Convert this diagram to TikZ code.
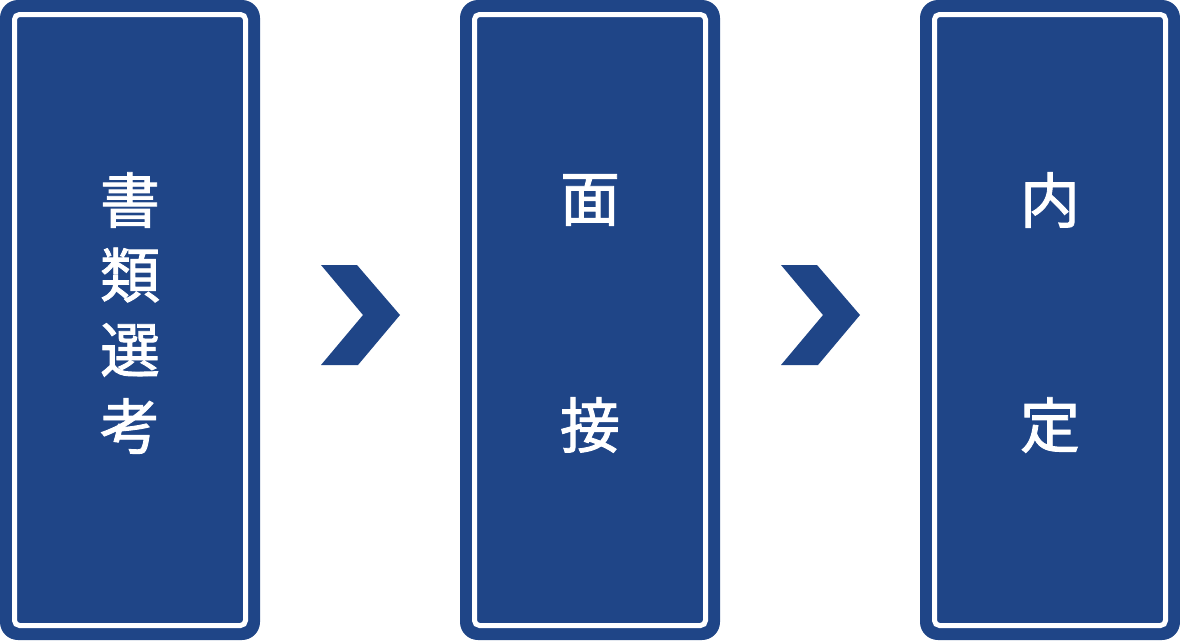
\documentclass[tikz,border=0pt]{standalone}
\usepackage{fontspec}
\usetikzlibrary{calc}
\newfontfamily\cjk[FakeBold=1.5]{Noto Sans CJK JP}
\definecolor{navy}{RGB}{31,69,135}
\tikzset{
  outerbox/.style={fill=navy, draw=none, rounded corners=18pt, minimum width=260pt, minimum height=640pt, inner sep=0pt, outer sep=0pt},
  innerline/.style={draw=white, line width=5pt, rounded corners=5pt, minimum width=231pt, minimum height=611pt, inner sep=0pt},
  lbl/.style={text=white, font=\cjk\fontsize{60}{72}\selectfont, inner sep=0pt},
  chevron/.style={fill=navy, draw=none}
}
\begin{document}
\begin{tikzpicture}[x=1pt,y=-1pt]
\useasboundingbox (0,0) rectangle (1180,640);
\node[outerbox] (b1) at (130,320) {};
\node[outerbox] (b2) at (590,320) {};
\node[outerbox] (b3) at (1050,320) {};
\node[innerline] (i1) at (b1.center) {};
\node[innerline] (i2) at (b2.center) {};
\node[innerline] (i3) at (b3.center) {};
% labels
\node[lbl] (t1a) at (130,200) {書};
\node[lbl] (t1b) at (130,275) {類};
\node[lbl] (t1c) at (130,350) {選};
\node[lbl] (t1d) at (130,426) {考};
\node[lbl] (t2a) at (590,200) {面};
\node[lbl] (t2b) at (590,425) {接};
\node[lbl] (t3a) at (1050,200) {内};
\node[lbl] (t3b) at (1050,425) {定};
% chevrons
\coordinate (c1) at ($(b1.east)!0.5!(b2.west)+(0,-5)$);
\coordinate (c2) at ($(b2.east)!0.5!(b3.west)+(0,-5)$);
\foreach \c in {c1,c2}{
  \fill[chevron] ([shift={(-39,-50)}]\c) -- ([shift={(-3,-50)}]\c) -- ([shift={(40,0)}]\c)
    -- ([shift={(-2,50)}]\c) -- ([shift={(-39,50)}]\c) -- ([shift={(3,0)}]\c) -- cycle;
}
\end{tikzpicture}
\end{document}
